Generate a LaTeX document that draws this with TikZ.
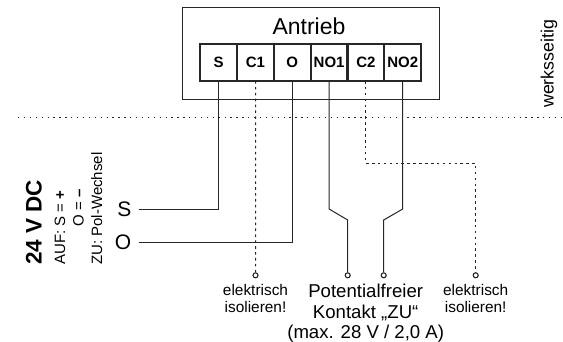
\documentclass[tikz,border=0pt]{standalone}
\usepackage{fontspec}
\setmainfont{Liberation Sans}
\usetikzlibrary{positioning}

\tikzset{
  wire/.style={line width=1pt, draw=black!85, line join=miter},
  dotwire/.style={line width=1pt, draw=black!85, dash pattern=on 2.6pt off 3.3pt},
  terminal/.style={draw=black!85, line width=2.3pt, minimum width=36.8pt, minimum height=37pt, inner sep=0pt, outer sep=0pt, font=\fontsize{15}{15}\selectfont\bfseries},
  endpt/.style={circle, draw=black!85, line width=1.1pt, fill=white, minimum size=5pt, inner sep=0pt},
  note/.style={align=center, inner sep=0pt, font=\fontsize{15.4}{17.2}\selectfont},
}

\begin{document}
\begin{tikzpicture}[x=1pt, y=-1pt]
  \useasboundingbox (0,0) rectangle (563,342);

  % housing and terminals
  \node [draw=black!85, line width=1.1pt, minimum width=257pt, minimum height=92pt, inner sep=0pt] (box) at (310.8,53.4) {};
  \node [anchor=base, inner sep=0pt, font=\fontsize{23}{23}\selectfont] (title) at (309,35) {Antrieb};
  \node [terminal] (S) at (218.7,62.5) {S};
  \node [terminal, right=0pt of S] (C1) {C1};
  \node [terminal, right=0pt of C1] (O) {O};
  \node [terminal, right=0pt of O] (NO1) {NO1};
  \node [terminal, right=0pt of NO1] (C2) {C2};
  \node [terminal, right=0pt of C2] (NO2) {NO2};

  % works boundary
  \coordinate (sepL) at (18,117.5);
  \coordinate (sepR) at (561,117.5);
  \draw [dotwire, line width=1.3pt, dash pattern=on 1.3pt off 4.6pt] (sepL) -- (sepR);
  \node [rotate=90, anchor=west, inner sep=0pt, font=\fontsize{17.8}{17.8}\selectfont] (works) at (549,108) {werksseitig};

  % supply side
  \node [anchor=east, inner xsep=7pt, inner ysep=0pt, font=\fontsize{21}{21}\selectfont] (inS) at (138.5,209.5) {S};
  \node [anchor=east, inner xsep=7pt, inner ysep=0pt, font=\fontsize{21}{21}\selectfont] (inO) at (138.5,242.5) {O};
  \node [rotate=90, anchor=west, inner sep=0pt, font=\fontsize{22.5}{22.5}\selectfont\bfseries] (volt) at (34,265) {24 V DC};
  \node [rotate=90, anchor=west, inner sep=0pt, align=left, font=\fontsize{15}{18.5}\selectfont] (pol) at (78.5,265) {AUF: S = \textbf{+}\\\phantom{AUF: }O = \textbf{–}\\ZU: Pol-Wechsel};
  \draw [wire] (S.south) |- (inS.east);
  \draw [wire] (O.south) |- (inO.east);

  % contact
  \node [endpt] (endC1) at (255.5,275.3) {};
  \node [endpt] (endA) at (347.7,275.3) {};
  \node [endpt] (endB) at (383.7,275.3) {};
  \node [endpt] (endC2) at (475.7,275.3) {};
  \coordinate (kinkA) at (NO1.south |- 0,209);
  \coordinate (kinkB) at (NO2.south |- 0,209);
  \coordinate (bendA) at (endA |- 0,220);
  \coordinate (bendB) at (endB |- 0,220);
  \coordinate (turnC2) at (C2.south |- 0,163.5);
  \draw [wire] (NO1.south) -- (kinkA) -- (bendA) -- (endA);
  \draw [wire] (NO2.south) -- (kinkB) -- (bendB) -- (endB);
  \draw [dotwire] (C1.south) -- (endC1);
  \draw [dotwire] (C2.south) -- (turnC2) -| (endC2);

  % labels
  \node [note, anchor=north] (isoL) at (255.5,284) {elektrisch\\isolieren!};
  \node [note, anchor=north] (isoR) at (475.7,284) {elektrisch\\isolieren!};
  \node [note, anchor=north, font=\fontsize{18.6}{20.6}\selectfont] (pot) at (365.7,284) {Potentialfreier\\Kontakt „ZU“\\(max. 28 V / 2,0 A)};
\end{tikzpicture}
\end{document}
